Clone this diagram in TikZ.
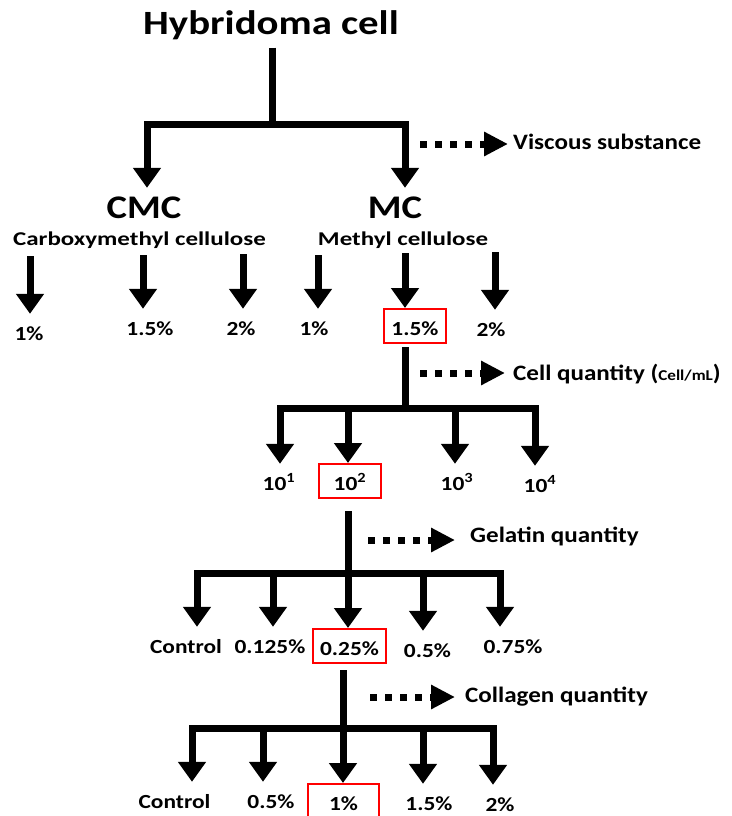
\documentclass[tikz,border=0pt]{standalone}
\usepackage{fontspec}
\setmainfont{Carlito}
\newfontfamily\titlefont{Carlito}[FakeStretch=1.2]
\newfontfamily\labfont{Carlito}[FakeStretch=1.17]
\newfontfamily\namefont{Carlito}[FakeStretch=1.28]
\newfontfamily\sidefont{Carlito}[FakeStretch=1.14]
\usetikzlibrary{arrows.meta}

\begin{document}
\begin{tikzpicture}[x=1pt, y=-1pt, font=\bfseries,
    trunk/.style={line width=7pt},
    arr/.style={line width=7pt, -{Triangle[width=27pt,length=20pt]}},
    dots/.style={line width=7pt, dash pattern=on 7pt off 8pt, -{Triangle[width=23pt,length=24pt]}},
    title/.style={font=\titlefont\fontsize{34}{40}\selectfont\bfseries, anchor=base, inner sep=3pt},
    head/.style={font=\labfont\fontsize{33}{40}\selectfont\bfseries, anchor=base, inner ysep=9pt, text height=21pt},
    sub/.style={font=\namefont\fontsize{19.5}{23}\selectfont\bfseries, anchor=base},
    lab/.style={font=\labfont\fontsize{20}{24}\selectfont\bfseries, anchor=base, inner xsep=2pt, inner ysep=8pt, text height=18pt, text depth=0pt},
    pick/.style={lab, draw=red, line width=2pt},
    side/.style={font=\sidefont\fontsize{22}{26}\selectfont\bfseries, anchor=base west, inner sep=3pt}]
  \useasboundingbox (0,0) rectangle (731,816);

  % cell line and the two thickeners
  \node[title] (hyb) at (271,35) {Hybridoma cell};
  \node[head] (cmc) at (144,218) {CMC};
  \node[head] (mc) at (395,218) {MC};
  \node[sub] (cmcname) at (139.5,245) {Carboxymethyl cellulose};
  \node[sub] (mcname) at (403,245) {Methyl cellulose};
  \coordinate (h0) at (272,124);
  \coordinate (h1) at (147,124);
  \coordinate (h2) at (405,124);
  \draw[trunk, shorten <=4pt] (h0 |- hyb.south) -- (h0);
  \draw[trunk, line cap=rect] (h1) -- (h2);
  \draw[arr] (h1) -- (h1 |- cmc.north);
  \draw[arr] (h2) -- (h2 |- mc.north);
  \node[side] (visc) at (510,149) {Viscous substance};
  \coordinate (s1) at (420,144);
  \draw[dots, shorten >=2pt] (s1) -- (s1 -| visc.west);

  % concentrations
  \node[lab] (c1) at (29,340) {1\%};
  \node[lab] (c2) at (150,335) {1.5\%};
  \node[lab] (c3) at (241,335) {2\%};
  \node[lab] (m1) at (314,335) {1\%};
  \node[pick, minimum width=62pt] (m2) at (415,335) {1.5\%};
  \node[lab] (m3) at (491,336) {2\%};
  \coordinate (ac1) at (30,256);
  \coordinate (ac2) at (143,255);
  \coordinate (ac3) at (243,254);
  \coordinate (am1) at (318,255);
  \coordinate (am2) at (405,253);
  \coordinate (am3) at (495,252);
  \draw[arr] (ac1) -- (ac1 |- c1.north);
  \draw[arr] (ac2) -- (ac2 |- c2.north);
  \draw[arr] (ac3) -- (ac3 |- c3.north);
  \draw[arr] (am1) -- (am1 |- m1.north);
  \draw[arr] (am2) -- (am2 |- m2.north);
  \draw[arr] (am3) -- (am3 |- m3.north);

  % cell quantity
  \node[side] (cellq) at (510,380) {Cell quantity ({\fontsize{15}{18}\selectfont Cell/mL})};
  \coordinate (s2) at (420,373);
  \draw[dots, shorten >=5pt] (s2) -- (s2 -| cellq.west);
  \node[lab] (e1) at (279,490) {10\textsuperscript{1}};
  \node[pick, minimum width=62pt] (e2) at (350,490) {10\textsuperscript{2}};
  \node[lab] (e3) at (457,490) {10\textsuperscript{3}};
  \node[lab] (e4) at (540,492) {10\textsuperscript{4}};
  \coordinate (n0) at (405,408);
  \coordinate (n1) at (280,408);
  \coordinate (n2) at (348,408);
  \coordinate (n3) at (455,408);
  \coordinate (n4) at (535,408);
  \draw[trunk, shorten <=3pt] (n0 |- m2.south) -- (n0);
  \draw[trunk, line cap=rect] (n1) -- (n4);
  \draw[arr] (n1) -- (n1 |- e1.north);
  \draw[arr] (n2) -- (n2 |- e2.north);
  \draw[arr] (n3) -- (n3 |- e3.north);
  \draw[arr] (n4) -- (n4 |- e4.north);

  % gelatin quantity
  \node[side] (gel) at (467,542) {Gelatin quantity};
  \coordinate (s3) at (368,540);
  \draw[dots, shorten >=12pt] (s3) -- (s3 -| gel.west);
  \node[lab] (l1) at (186,653) {Control};
  \node[lab] (l2) at (270,653) {0.125\%};
  \node[pick, minimum width=73pt] (l3) at (349.5,655) {0.25\%};
  \node[lab] (l4) at (427.5,657) {0.5\%};
  \node[lab] (l5) at (513,653) {0.75\%};
  \coordinate (g0) at (348,573);
  \coordinate (g1) at (197,573);
  \coordinate (g2) at (273,573);
  \coordinate (g4) at (423,573);
  \coordinate (g5) at (500,573);
  \draw[trunk, shorten <=12pt] (g0 |- e2.south) -- (g0);
  \draw[trunk, line cap=rect] (g1) -- (g5);
  \draw[arr] (g1) -- (g1 |- l1.north);
  \draw[arr] (g2) -- (g2 |- l2.north);
  \draw[arr] (g0) -- (g0 |- l3.north);
  \draw[arr] (g4) -- (g4 |- l4.north);
  \draw[arr] (g5) -- (g5 |- l5.north);

  % collagen quantity
  \node[side] (col) at (462,702) {Collagen quantity};
  \coordinate (s4) at (370,697);
  \draw[dots, shorten >=7pt] (s4) -- (s4 -| col.west);
  \node[lab] (o1) at (174.5,808) {Control};
  \node[lab] (o2) at (271,808) {0.5\%};
  \node[pick, minimum width=71pt] (o3) at (343.5,810) {1\%};
  \node[lab] (o4) at (429,810) {1.5\%};
  \node[lab] (o5) at (500,811) {2\%};
  \coordinate (k0) at (343,728);
  \coordinate (k1) at (192,728);
  \coordinate (k2) at (263,728);
  \coordinate (k4) at (423,728);
  \coordinate (k5) at (493,728);
  \draw[trunk, shorten <=6pt] (k0 |- l3.south) -- (k0);
  \draw[trunk, line cap=rect] (k1) -- (k5);
  \draw[arr] (k1) -- (k1 |- o1.north);
  \draw[arr] (k2) -- (k2 |- o2.north);
  \draw[arr] (k0) -- (k0 |- o3.north);
  \draw[arr] (k4) -- (k4 |- o4.north);
  \draw[arr] (k5) -- (k5 |- o5.north);
\end{tikzpicture}
\end{document}
